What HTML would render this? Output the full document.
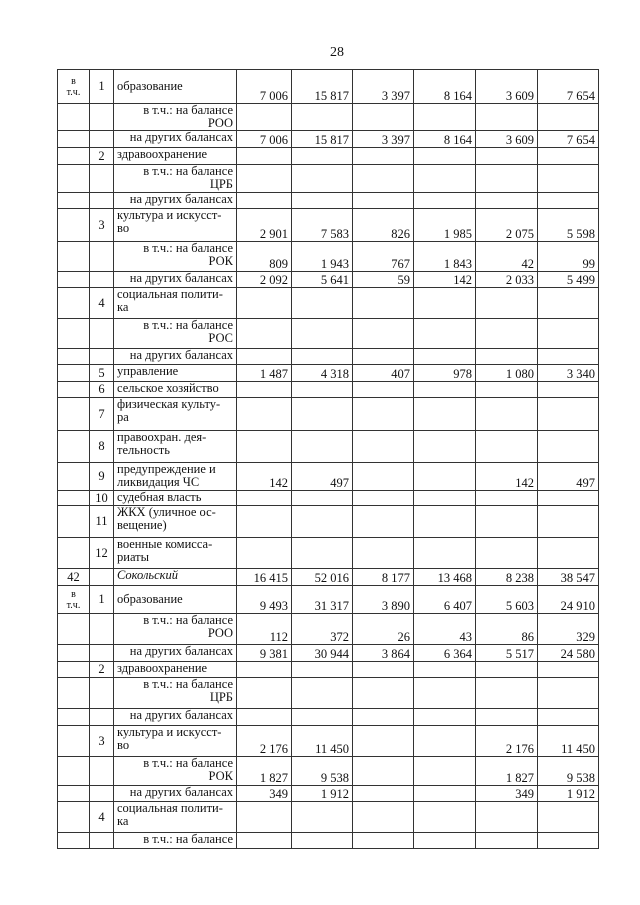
<!DOCTYPE html>
<html><head><meta charset="utf-8"><style>
body{margin:0;background:#fff;width:640px;height:905px;position:relative;font-family:"Liberation Serif","DejaVu Serif",serif;color:#111;}
.pn{position:absolute;left:330px;top:45px;font-size:14px;}
table{position:absolute;left:57px;top:69px;border-collapse:collapse;table-layout:fixed;width:541px;font-size:12.5px;line-height:13px;}
td{border:1px solid #333;padding:0 3px;overflow:hidden;white-space:nowrap;}
td.a{text-align:center;vertical-align:middle;font-size:10px;line-height:11px;}
td.b{text-align:center;vertical-align:middle;}
td.l{text-align:left;vertical-align:top;}
td.r{text-align:right;vertical-align:top;}
td.n{text-align:right;vertical-align:bottom;padding-bottom:0;}
i{font-style:italic;}
</style></head><body>
<div class="pn">28</div>
<table>
<colgroup><col style="width:32px"><col style="width:24px"><col style="width:123px"><col style="width:55px"><col style="width:61px"><col style="width:61px"><col style="width:62px"><col style="width:62px"><col style="width:61px"></colgroup>
<tr style="height:34px"><td class="a">в<br>т.ч.</td><td class="b">1</td><td class="l" style="vertical-align:middle">образование</td><td class="n">7 006</td><td class="n">15 817</td><td class="n">3 397</td><td class="n">8 164</td><td class="n">3 609</td><td class="n">7 654</td></tr>
<tr style="height:27px"><td></td><td></td><td class="r">в т.ч.: на балансе<br>РОО</td><td></td><td></td><td></td><td></td><td></td><td></td></tr>
<tr style="height:17px"><td></td><td></td><td class="r">на других балансах</td><td class="n">7 006</td><td class="n">15 817</td><td class="n">3 397</td><td class="n">8 164</td><td class="n">3 609</td><td class="n">7 654</td></tr>
<tr style="height:17px"><td></td><td class="b">2</td><td class="l">здравоохранение</td><td></td><td></td><td></td><td></td><td></td><td></td></tr>
<tr style="height:28px"><td></td><td></td><td class="r">в т.ч.: на балансе<br>ЦРБ</td><td></td><td></td><td></td><td></td><td></td><td></td></tr>
<tr style="height:16px"><td></td><td></td><td class="r">на других балансах</td><td></td><td></td><td></td><td></td><td></td><td></td></tr>
<tr style="height:33px"><td></td><td class="b">3</td><td class="l">культура и искусст-<br>во</td><td class="n">2 901</td><td class="n">7 583</td><td class="n">826</td><td class="n">1 985</td><td class="n">2 075</td><td class="n">5 598</td></tr>
<tr style="height:30px"><td></td><td></td><td class="r">в т.ч.: на балансе<br>РОК</td><td class="n">809</td><td class="n">1 943</td><td class="n">767</td><td class="n">1 843</td><td class="n">42</td><td class="n">99</td></tr>
<tr style="height:16px"><td></td><td></td><td class="r">на других балансах</td><td class="n">2 092</td><td class="n">5 641</td><td class="n">59</td><td class="n">142</td><td class="n">2 033</td><td class="n">5 499</td></tr>
<tr style="height:31px"><td></td><td class="b">4</td><td class="l">социальная полити-<br>ка</td><td></td><td></td><td></td><td></td><td></td><td></td></tr>
<tr style="height:30px"><td></td><td></td><td class="r">в т.ч.: на балансе<br>РОС</td><td></td><td></td><td></td><td></td><td></td><td></td></tr>
<tr style="height:16px"><td></td><td></td><td class="r">на других балансах</td><td></td><td></td><td></td><td></td><td></td><td></td></tr>
<tr style="height:17px"><td></td><td class="b">5</td><td class="l">управление</td><td class="n">1 487</td><td class="n">4 318</td><td class="n">407</td><td class="n">978</td><td class="n">1 080</td><td class="n">3 340</td></tr>
<tr style="height:16px"><td></td><td class="b">6</td><td class="l">сельское хозяйство</td><td></td><td></td><td></td><td></td><td></td><td></td></tr>
<tr style="height:33px"><td></td><td class="b">7</td><td class="l">физическая культу-<br>ра</td><td></td><td></td><td></td><td></td><td></td><td></td></tr>
<tr style="height:32px"><td></td><td class="b">8</td><td class="l">правоохран. дея-<br>тельность</td><td></td><td></td><td></td><td></td><td></td><td></td></tr>
<tr style="height:28px"><td></td><td class="b">9</td><td class="l">предупреждение и<br>ликвидация ЧС</td><td class="n">142</td><td class="n">497</td><td></td><td></td><td class="n">142</td><td class="n">497</td></tr>
<tr style="height:15px"><td></td><td class="b">10</td><td class="l">судебная власть</td><td></td><td></td><td></td><td></td><td></td><td></td></tr>
<tr style="height:32px"><td></td><td class="b">11</td><td class="l">ЖКХ (уличное ос-<br>вещение)</td><td></td><td></td><td></td><td></td><td></td><td></td></tr>
<tr style="height:31px"><td></td><td class="b">12</td><td class="l">военные комисса-<br>риаты</td><td></td><td></td><td></td><td></td><td></td><td></td></tr>
<tr style="height:17px"><td class="b">42</td><td></td><td class="l"><i>Сокольский</i></td><td class="n">16 415</td><td class="n">52 016</td><td class="n">8 177</td><td class="n">13 468</td><td class="n">8 238</td><td class="n">38 547</td></tr>
<tr style="height:28px"><td class="a">в<br>т.ч.</td><td class="b">1</td><td class="l" style="vertical-align:middle">образование</td><td class="n">9 493</td><td class="n">31 317</td><td class="n">3 890</td><td class="n">6 407</td><td class="n">5 603</td><td class="n">24 910</td></tr>
<tr style="height:31px"><td></td><td></td><td class="r">в т.ч.: на балансе<br>РОО</td><td class="n">112</td><td class="n">372</td><td class="n">26</td><td class="n">43</td><td class="n">86</td><td class="n">329</td></tr>
<tr style="height:17px"><td></td><td></td><td class="r">на других балансах</td><td class="n">9 381</td><td class="n">30 944</td><td class="n">3 864</td><td class="n">6 364</td><td class="n">5 517</td><td class="n">24 580</td></tr>
<tr style="height:16px"><td></td><td class="b">2</td><td class="l">здравоохранение</td><td></td><td></td><td></td><td></td><td></td><td></td></tr>
<tr style="height:31px"><td></td><td></td><td class="r">в т.ч.: на балансе<br>ЦРБ</td><td></td><td></td><td></td><td></td><td></td><td></td></tr>
<tr style="height:17px"><td></td><td></td><td class="r">на других балансах</td><td></td><td></td><td></td><td></td><td></td><td></td></tr>
<tr style="height:31px"><td></td><td class="b">3</td><td class="l">культура и искусст-<br>во</td><td class="n">2 176</td><td class="n">11 450</td><td></td><td></td><td class="n">2 176</td><td class="n">11 450</td></tr>
<tr style="height:29px"><td></td><td></td><td class="r">в т.ч.: на балансе<br>РОК</td><td class="n">1 827</td><td class="n">9 538</td><td></td><td></td><td class="n">1 827</td><td class="n">9 538</td></tr>
<tr style="height:16px"><td></td><td></td><td class="r">на других балансах</td><td class="n">349</td><td class="n">1 912</td><td></td><td></td><td class="n">349</td><td class="n">1 912</td></tr>
<tr style="height:31px"><td></td><td class="b">4</td><td class="l">социальная полити-<br>ка</td><td></td><td></td><td></td><td></td><td></td><td></td></tr>
<tr style="height:16px"><td></td><td></td><td class="r">в т.ч.: на балансе</td><td></td><td></td><td></td><td></td><td></td><td></td></tr>
</table>
</body></html>
